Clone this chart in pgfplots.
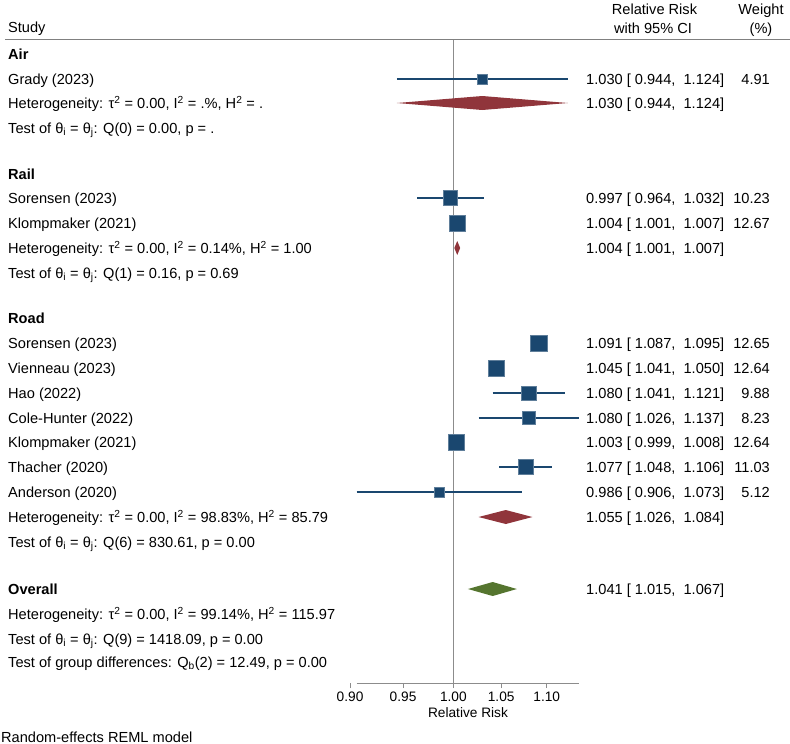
\documentclass[border=0pt]{standalone}
\usepackage{fontspec}
\setmainfont{Liberation Sans}
\usepackage{pgfplots}
\pgfplotsset{compat=1.18}
\definecolor{snavy}{HTML}{1A476F}
\definecolor{smaroon}{HTML}{90353B}
\definecolor{sgreen}{HTML}{55752F}
\definecolor{sgray}{HTML}{8C8C8C}
\newcommand{\ft}{\fontsize{14.6bp}{17bp}\selectfont}
\newcommand{\fs}{\fontsize{13.7bp}{16bp}\selectfont}
% est, lo, hi, y, half side of square
\newcommand{\study}[5]{%
  \addplot[snavy, line width=1.2bp, forget plot] coordinates {(#2,#4) (#3,#4)};
  \addplot[only marks, mark=square*, mark size=#5bp,
    mark options={fill=snavy, draw=snavy!70!white, line width=0.5bp}, forget plot] coordinates {(#1,#4)};
}
% est, lo, hi, y, colour
\newcommand{\diam}[5]{%
  \addplot[fill=#5, draw=none, forget plot] coordinates {(#2,#4) (#1,#4+7) (#3,#4) (#1,#4-7)} -- cycle;
}
\begin{document}
\begin{tikzpicture}
\begin{axis}[
  anchor=north west, at={(0,0)},
  scale only axis, width=790bp, height=683bp,
  xmode=log, xmin=0.6297, xmax=1.4099,
  ymin=-683, ymax=0,
  clip=false,
  axis y line=none,
  axis x line*=bottom,
  x axis line style={draw=none},
  xtick={0.9,0.95,1,1.05,1.1},
  xticklabels={0.90,0.95,1.00,1.05,1.10},
  minor xtick={},
  log basis x=10,
  tick align=outside,
  major tick length=5bp,
  x tick style={sgray, line width=0.9bp},
  x tick label style={font=\fs, text=black},
  /pgf/number format/assume math mode=true,
]
% reference line at 1 and axis line
\addplot[sgray, line width=0.9bp, forget plot] coordinates {(1,-39.5) (1,-683)};
\addplot[sgray, line width=0.9bp, forget plot] coordinates {(0.906,-683) (1.137,-683)};
% Air
\study{1.030}{0.944}{1.124}{-79}{5.03}
\diam{1.030}{0.944}{1.124}{-103}{smaroon}
% Rail
\study{0.997}{0.964}{1.032}{-198}{7.26}
\study{1.004}{1.001}{1.007}{-223}{8.08}
\diam{1.004}{1.001}{1.007}{-248}{smaroon}
% Road
\study{1.091}{1.087}{1.095}{-343}{8.07}
\study{1.045}{1.041}{1.050}{-368}{8.07}
\study{1.080}{1.041}{1.121}{-393}{7.14}
\study{1.080}{1.026}{1.137}{-418}{6.51}
\study{1.003}{0.999}{1.008}{-442}{8.07}
\study{1.077}{1.048}{1.106}{-467}{7.54}
\study{0.986}{0.906}{1.073}{-492}{5.14}
\diam{1.055}{1.026}{1.084}{-517}{smaroon}
% Overall
\diam{1.041}{1.015}{1.067}{-589}{sgreen}
\end{axis}
\begin{scope}[x=1bp, y=-1bp,
  lt/.style={anchor=base west, inner sep=0pt, font=\ft},
  rt/.style={anchor=base east, inner sep=0pt, font=\ft},
  ct/.style={anchor=base, inner sep=0pt, font=\ft}]
\def\d{5.3}
% header
\node[lt] at (8,27+\d) {Study};
\node[ct] at (654.5,9+\d) {Relative Risk};
\node[ct] at (653,28+\d) {with 95\% CI};
\node[ct] at (761,9+\d) {Weight};
\node[ct] at (761,28+\d) {(\%)};
\draw[gray, line width=1.1bp] (5,39.5) -- (790,39.5);
% left column
\node[lt] at (8,54+\d) {\bfseries Air};
\node[lt] at (8,79+\d) {Grady (2023)};
\node[lt] at (8,103+\d) {Heterogeneity: τ\textsuperscript{2} = 0.00, I\textsuperscript{2} = .\%, H\textsuperscript{2} = .};
\node[lt] at (8,128+\d) {Test of θ\textsubscript{i} = θ\textsubscript{j}: Q(0) = 0.00, p = .};
\node[lt] at (8,174+\d) {\bfseries Rail};
\node[lt] at (8,198+\d) {Sorensen (2023)};
\node[lt] at (8,223+\d) {Klompmaker (2021)};
\node[lt] at (8,248+\d) {Heterogeneity: τ\textsuperscript{2} = 0.00, I\textsuperscript{2} = 0.14\%, H\textsuperscript{2} = 1.00};
\node[lt] at (8,273+\d) {Test of θ\textsubscript{i} = θ\textsubscript{j}: Q(1) = 0.16, p = 0.69};
\node[lt] at (8,318+\d) {\bfseries Road};
\node[lt] at (8,343+\d) {Sorensen (2023)};
\node[lt] at (8,368+\d) {Vienneau (2023)};
\node[lt] at (8,393+\d) {Hao (2022)};
\node[lt] at (8,418+\d) {Cole-Hunter (2022)};
\node[lt] at (8,442+\d) {Klompmaker (2021)};
\node[lt] at (8,467+\d) {Thacher (2020)};
\node[lt] at (8,492+\d) {Anderson (2020)};
\node[lt] at (8,517+\d) {Heterogeneity: τ\textsuperscript{2} = 0.00, I\textsuperscript{2} = 98.83\%, H\textsuperscript{2} = 85.79};
\node[lt] at (8,542+\d) {Test of θ\textsubscript{i} = θ\textsubscript{j}: Q(6) = 830.61, p = 0.00};
\node[lt] at (8,589+\d) {\bfseries Overall};
\node[lt] at (8,614+\d) {Heterogeneity: τ\textsuperscript{2} = 0.00, I\textsuperscript{2} = 99.14\%, H\textsuperscript{2} = 115.97};
\node[lt] at (8,639+\d) {Test of θ\textsubscript{i} = θ\textsubscript{j}: Q(9) = 1418.09, p = 0.00};
\node[lt] at (8,662+\d) {Test of group differences: Q\textsubscript{b}(2) = 12.49, p = 0.00};
% right columns
\node[lt] at (586,79+\d) {1.030 [ 0.944, \ 1.124]};
\node[rt] at (770,79+\d) {4.91};
\node[lt] at (586,103+\d) {1.030 [ 0.944, \ 1.124]};
\node[lt] at (586,198+\d) {0.997 [ 0.964, \ 1.032]};
\node[rt] at (770,198+\d) {10.23};
\node[lt] at (586,223+\d) {1.004 [ 1.001, \ 1.007]};
\node[rt] at (770,223+\d) {12.67};
\node[lt] at (586,248+\d) {1.004 [ 1.001, \ 1.007]};
\node[lt] at (586,343+\d) {1.091 [ 1.087, \ 1.095]};
\node[rt] at (770,343+\d) {12.65};
\node[lt] at (586,368+\d) {1.045 [ 1.041, \ 1.050]};
\node[rt] at (770,368+\d) {12.64};
\node[lt] at (586,393+\d) {1.080 [ 1.041, \ 1.121]};
\node[rt] at (770,393+\d) {9.88};
\node[lt] at (586,418+\d) {1.080 [ 1.026, \ 1.137]};
\node[rt] at (770,418+\d) {8.23};
\node[lt] at (586,442+\d) {1.003 [ 0.999, \ 1.008]};
\node[rt] at (770,442+\d) {12.64};
\node[lt] at (586,467+\d) {1.077 [ 1.048, \ 1.106]};
\node[rt] at (770,467+\d) {11.03};
\node[lt] at (586,492+\d) {0.986 [ 0.906, \ 1.073]};
\node[rt] at (770,492+\d) {5.12};
\node[lt] at (586,517+\d) {1.055 [ 1.026, \ 1.084]};
\node[lt] at (586,589+\d) {1.041 [ 1.015, \ 1.067]};
% axis title and note
\node[anchor=base, inner sep=0pt, font=\fs] at (468,712+5) {Relative Risk};
\node[lt] at (1,737+\d) {Random-effects REML model};
\pgfresetboundingbox
\path (0,0) rectangle (790,744);
\end{scope}
\end{tikzpicture}
\end{document}
